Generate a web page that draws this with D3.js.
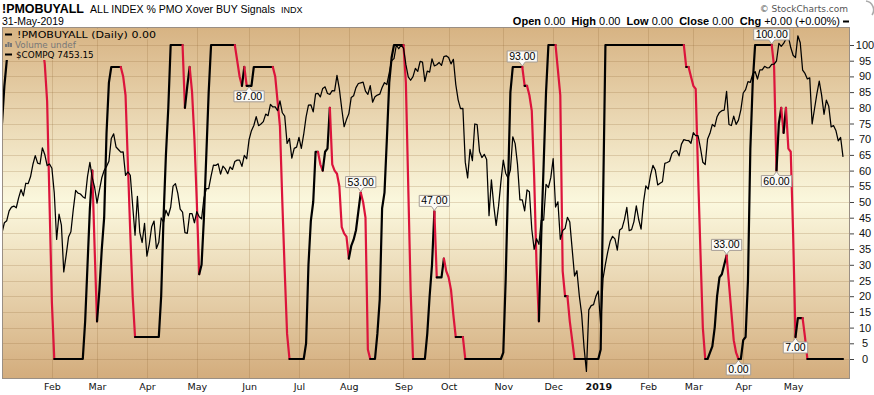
<!DOCTYPE html>
<html><head><meta charset="utf-8">
<script src="https://cdn.jsdelivr.net/npm/d3@7"></script>
<style>body{margin:0;background:#fff;}svg{display:block;}</style>
</head><body>
<svg id="chart" width="874" height="395"></svg>
<script>
// ---- DATA ----
const firstDay = "2018-01-02", lastDay = "2019-05-31";
const holidays = ["2018-01-01","2018-01-15","2018-02-19","2018-03-30","2018-05-28","2018-07-04","2018-09-03",
  "2018-11-22","2018-12-05","2018-12-25","2019-01-01","2019-01-21","2019-02-18","2019-04-19","2019-05-27"];

// $COMPQ daily closes (one per trading day)
const compq2018 = [
  7007,7066,7078,7136,7158,7164,7154,7212,7261,7224,7298,7296,7336,7408,7460,7416,7411,7506,7467,7402,7411, // Jan
  7386,7241,6968,7116,7052,6777,6874,6982,7013,7143,7256,7240,7235,7219,7210,7338,7421,7330,7273,           // Feb
  7181,7257,7330,7373,7397,7427,7561,7588,7511,7496,7481,7482,7344,7365,7345,7167,6993,7221,7009,6950,7063, // Mar
  6870,6941,7042,7076,6915,6951,7094,7069,7140,7107,7157,7281,7296,7238,7146,7129,7008,7004,7119,7120,7066, // Apr
  7131,7101,7089,7210,7266,7266,7340,7405,7403,7412,7352,7399,7382,7354,7394,7379,7426,7434,7434,7397,7462,7442, // May
  7554,7607,7637,7689,7636,7646,7660,7704,7695,7761,7746,7747,7725,7782,7712,7692,7532,7561,7445,7503,7510, // Jun
  7568,7503,7586,7688,7757,7759,7717,7823,7826,7805,7855,7864,7825,7820,7842,7841,7932,7852,7737,7630,7672, // Jul
  7707,7802,7812,7860,7884,7888,7892,7839,7820,7871,7774,7806,7816,7821,7860,7889,7878,7946,8018,8030,8110,8088,8110, // Aug
  8092,7996,7923,7903,7924,7973,7955,8014,8010,7896,7957,7951,8028,7987,7994,8007,7990,8042,8046,           // Sep
  8037,7999,8026,7879,7788,7736,7738,7422,7329,7497,7431,7646,7642,7485,7449,7468,7437,7108,7318,7167,7050,7162,7306, // Oct
  7434,7357,7329,7376,7571,7531,7407,7201,7200,7136,7259,7248,7028,6909,6972,6939,7082,7082,7292,7273,7331, // Nov
  7442,7158,7189,6969,7020,7032,7098,7070,6911,6753,6784,6637,6528,6333,6193,6554,6579,6585,6635            // Dec
];
const compq2019 = [
  6665,6463,6739,6823,6897,6957,6986,6971,6905,7024,7034,7084,7157,7020,7026,7073,7165,7085,7028,7184,7282, // Jan
  7264,7347,7403,7375,7288,7298,7307,7415,7420,7427,7472,7487,7489,7459,7528,7554,7550,7549,7533,           // Feb
  7596,7577,7577,7505,7421,7408,7558,7591,7644,7631,7689,7714,7724,7728,7838,7643,7637,7692,7644,7669,7729, // Mar
  7828,7848,7895,7891,7938,7954,7910,7964,7964,7985,7976,7977,7996,7998,8016,8120,8102,8119,8146,8161,8095, // Apr
  8050,8036,8164,8123,7963,7943,7911,7917,7647,7734,7823,7898,7816,7703,7786,7751,7629,7637,7608,7547,7567,7453 // May
];

// !PMOBUYALL turning points
const pmoDates = [
  "2018-01-02","2018-01-03","2018-01-04","2018-01-05","2018-01-26","2018-01-29","2018-01-30","2018-01-31","2018-02-01","2018-02-02",
  "2018-02-21","2018-02-22","2018-02-23","2018-02-26","2018-02-27","2018-02-28","2018-03-01","2018-03-02","2018-03-05","2018-03-06",
  "2018-03-07","2018-03-08","2018-03-09","2018-03-15","2018-03-16","2018-03-19","2018-03-20","2018-03-21","2018-03-22","2018-03-23",
  "2018-04-09","2018-04-10","2018-04-11","2018-04-12","2018-04-13","2018-04-16","2018-04-23","2018-04-24","2018-04-25","2018-04-26",
  "2018-04-27","2018-04-30","2018-05-01","2018-05-02","2018-05-03","2018-05-04","2018-05-07","2018-05-08","2018-05-09","2018-05-23",
  "2018-05-24","2018-05-25","2018-05-29","2018-05-30","2018-05-31","2018-06-04","2018-06-05","2018-06-15","2018-06-18","2018-06-19",
  "2018-06-20","2018-06-21","2018-06-22","2018-06-25","2018-06-26","2018-07-05","2018-07-06","2018-07-09","2018-07-10","2018-07-11",
  "2018-07-12","2018-07-13","2018-07-16","2018-07-17","2018-07-18","2018-07-19","2018-07-20","2018-07-23","2018-07-24","2018-07-25",
  "2018-07-26","2018-07-27","2018-07-30","2018-07-31","2018-08-01","2018-08-02","2018-08-03","2018-08-06","2018-08-07","2018-08-08",
  "2018-08-09","2018-08-10","2018-08-13","2018-08-14","2018-08-16","2018-08-17","2018-08-20","2018-08-21","2018-08-22","2018-08-23",
  "2018-08-24","2018-08-27","2018-08-28","2018-09-04","2018-09-05","2018-09-06","2018-09-07","2018-09-10","2018-09-17","2018-09-18",
  "2018-09-19","2018-09-20","2018-09-21","2018-09-24","2018-09-26","2018-09-27","2018-09-28","2018-10-01","2018-10-02","2018-10-03",
  "2018-10-04","2018-10-09","2018-10-10","2018-10-31","2018-11-01","2018-11-02","2018-11-05","2018-11-06","2018-11-07","2018-11-13",
  "2018-11-14","2018-11-15","2018-11-16","2018-11-19","2018-11-20","2018-11-21","2018-11-23","2018-11-26","2018-11-27","2018-11-28",
  "2018-11-29","2018-12-04","2018-12-06","2018-12-07","2018-12-10","2018-12-11","2018-12-12","2018-12-13","2018-12-14","2018-12-17",
  "2019-01-02","2019-01-03","2019-01-04","2019-01-07","2019-02-25","2019-02-26","2019-02-27","2019-02-28","2019-03-01","2019-03-04",
  "2019-03-05","2019-03-06","2019-03-07","2019-03-08","2019-03-11","2019-03-12","2019-03-13","2019-03-14","2019-03-15","2019-03-18",
  "2019-03-19","2019-03-20","2019-03-21","2019-03-22","2019-03-25","2019-03-26","2019-03-27","2019-03-28","2019-03-29","2019-04-01",
  "2019-04-02","2019-04-03","2019-04-04","2019-04-05","2019-04-08","2019-04-17","2019-04-18","2019-04-22","2019-04-23","2019-04-24",
  "2019-04-25","2019-04-26","2019-04-29","2019-04-30","2019-05-01","2019-05-02","2019-05-03","2019-05-07","2019-05-08","2019-05-09",
  "2019-05-31"
];
const pmoValues = [
  75,87,95,100,100,94,82,50,18,0,
  0,12,30,48,60,35,12,22,35,45,
  72,88,93,93,90,84,62,40,20,7,
  7,20,45,65,80,100,100,80,87,93,
  85,70,50,27,30,45,65,85,100,100,
  95,90,87,93,87,87,93,93,90,82,
  74,50,28,8,0,0,5,30,44,50,
  66,66,62,60,66,67,80,62,60,59,
  55,42,40,39,32,36,38,41,47,53,
  50,45,3,0,0,8,19,48,53,70,
  88,96,100,100,88,55,22,0,0,8,
  20,30,47,26,26,32,28,26,22,14,
  7,7,0,0,2,25,55,85,93,93,
  87,87,84,79,58,30,12,40,62,85,
  100,100,92,84,28,20,20,12,6,0,
  0,3,50,100,100,93,93,90,87,86,
  59,34,10,0,0,2,4,10,20,26,
  27,30,33,24,15,6,2,0,0,6,
  7,25,67,88,100,100,93,60,75,80,
  72,80,67,66,40,7,13,13,7,0,
  0
];

// value labels
const annoDates  = ["2018-06-01","2018-08-08","2018-09-21","2018-11-13","2019-03-21","2019-03-28","2019-04-17","2019-04-22","2019-05-02"];
const annoValues = [87,53,47,93,33,0,100,60,7];
const annoPlace  = ["below","above","above","above","above","below","above","below","below"];

const yTicks = d3.range(0, 101, 5);

// ---- BUILD ----
const fmtDay = d3.utcFormat("%Y-%m-%d"), parseDay = d3.utcParse("%Y-%m-%d");
const hol = new Set(holidays);
const days = d3.utcDays(parseDay(firstDay), d3.utcDay.offset(parseDay(lastDay), 1))
  .filter(d => d.getUTCDay() !== 0 && d.getUTCDay() !== 6 && !hol.has(fmtDay(d)));
const dayIdx = new Map(days.map((d, i) => [fmtDay(d), i]));
const compq = compq2018.concat(compq2019);

const plot = {l: 2, r: 850, t: 27, b: 379};
const x = d3.scaleLinear().domain([0, days.length - 1]).range([2, 843]);
const y = d3.scaleLinear().domain([0, 100]).range([359, 45]);
const yC = d3.scaleLinear().domain([6192, 8110]).range([y(-4), y(100)]);

const svg = d3.select("#chart");
const defs = svg.append("defs");
const grad = defs.append("linearGradient").attr("id", "bg").attr("gradientUnits", "userSpaceOnUse")
  .attr("x1", 0).attr("y1", plot.t).attr("x2", 0).attr("y2", plot.b);
[[0, "#d7b383"], [0.5, "#fbf8de"], [1, "#d3ac7c"]].forEach(([o, c]) => grad.append("stop").attr("offset", o).attr("stop-color", c));
defs.append("clipPath").attr("id", "clip").append("rect")
  .attr("x", plot.l).attr("y", plot.t).attr("width", plot.r - plot.l).attr("height", plot.b - plot.t);

svg.append("rect").attr("x", plot.l).attr("y", plot.t).attr("width", plot.r - plot.l).attr("height", plot.b - plot.t)
  .attr("fill", "url(#bg)");

// month starts
const monthStarts = [];
days.forEach((d, i) => { if (i > 0 && d.getUTCMonth() !== days[i - 1].getUTCMonth()) monthStarts.push(i); });

const grid = svg.append("g").attr("stroke", "rgba(140,100,50,0.22)").attr("stroke-width", 1);
yTicks.forEach(v => grid.append("line").attr("x1", plot.l).attr("x2", plot.r)
  .attr("y1", Math.round(y(v)) + 0.5).attr("y2", Math.round(y(v)) + 0.5));
monthStarts.forEach(i => grid.append("line").attr("y1", plot.t).attr("y2", plot.b)
  .attr("x1", Math.round(x(i)) + 0.5).attr("x2", Math.round(x(i)) + 0.5));

const g = svg.append("g").attr("clip-path", "url(#clip)");

// PMO line coloured by direction
const pts = pmoDates.map((d, k) => ({i: dayIdx.get(d), v: pmoValues[k]}));
const runs = [];
for (let k = 1; k < pts.length; k++) {
  const col = pts[k].v < pts[k - 1].v ? "#dc143c" : "#000";
  const last = runs[runs.length - 1];
  if (last && last.col === col) last.p.push(pts[k]);
  else runs.push({col, p: [pts[k - 1], pts[k]]});
}
const pLine = d3.line().x(p => x(p.i)).y(p => y(p.v));
runs.forEach(r => g.append("path").attr("d", pLine(r.p)).attr("fill", "none").attr("stroke", r.col)
  .attr("stroke-width", 2.2).attr("stroke-linejoin", "round").attr("stroke-linecap", "round"));

// COMPQ overlay
const cLine = d3.line().x((v, i) => x(i)).y(v => yC(v));
g.append("path").attr("d", cLine(compq)).attr("fill", "none").attr("stroke", "#000")
  .attr("stroke-width", 1.25).attr("stroke-linejoin", "round");

// legend (opaque background over the lines)
const lf = "DejaVu Sans, sans-serif";
const lg = svg.append("g");
const legBg = lg.append("g");
lg.append("line").attr("x1", 5).attr("x2", 12).attr("y1", 34.5).attr("y2", 34.5).attr("stroke", "#000").attr("stroke-width", 2);
const l1 = lg.append("text").attr("x", 17).attr("y", 38).attr("font-family", lf).attr("font-size", 9.5)
  .attr("textLength", 139).attr("lengthAdjust", "spacingAndGlyphs").text("!PMOBUYALL (Daily) 0.00");
[[5, 3], [7.5, 5], [10, 4]].forEach(([bx, bh]) => lg.append("rect").attr("x", bx).attr("y", 47 - bh).attr("width", 2).attr("height", bh).attr("fill", "#777"));
const l2 = lg.append("text").attr("x", 15).attr("y", 48).attr("font-family", lf).attr("font-size", 8.8).attr("fill", "#777").text("Volume undef");
lg.append("line").attr("x1", 5).attr("x2", 12).attr("y1", 54.5).attr("y2", 54.5).attr("stroke", "#000").attr("stroke-width", 2);
const l3 = lg.append("text").attr("x", 16).attr("y", 58).attr("font-family", lf).attr("font-size", 8.8).text("$COMPQ 7453.15");
[[l1, 29, 10], [l2, 39, 10], [l3, 49, 11]].forEach(([t, ty, th]) => {
  const bb = t.node().getBBox();
  legBg.append("rect").attr("x", plot.l + 1).attr("y", ty).attr("width", bb.x + bb.width + 2 - plot.l - 1).attr("height", th)
    .attr("fill", "url(#bg)");
});

// border
svg.append("rect").attr("x", plot.l + 0.5).attr("y", plot.t + 0.5).attr("width", plot.r - plot.l - 1).attr("height", plot.b - plot.t - 1)
  .attr("fill", "none").attr("stroke", "#9a8f84");

// annotations
const ag = svg.append("g");
annoDates.forEach((d, k) => {
  const px = x(dayIdx.get(d)), py = y(annoValues[k]);
  const t = ag.append("text").attr("font-family", "Liberation Sans, Arial, sans-serif").attr("font-size", 10.5)
    .attr("text-anchor", "middle").text(annoValues[k].toFixed(2));
  const tw = t.node().getComputedTextLength();
  const w = tw + 4, h = 11, x0 = px - w / 2, x1 = px + w / 2;
  let path, by;
  if (annoPlace[k] === "above") {
    const yb = py - 5, yt = yb - h; by = yb - 2;
    path = `M${x0},${yt}H${x1}V${yb}H${px + 3}L${px},${py - 1}L${px - 3},${yb}H${x0}Z`;
  } else {
    const yt = py + 5, yb = yt + h; by = yb - 2;
    path = `M${x0},${yt}H${px - 3}L${px},${py + 1}L${px + 3},${yt}H${x1}V${yb}H${x0}Z`;
  }
  ag.insert("path", "text").attr("d", path).attr("fill", "#fbfaf6").attr("stroke", "#a59d95").attr("stroke-width", 1);
  t.attr("x", px).attr("y", by).raise();
});

// right axis
const ya = svg.append("g").attr("transform", `translate(${plot.r},0)`)
  .call(d3.axisRight(y).tickValues(yTicks).tickSize(4).tickFormat(d3.format("d")));
ya.select(".domain").remove();
ya.selectAll(".tick line").attr("stroke", "#444");
ya.selectAll(".tick text").attr("x", 15).attr("text-anchor", "middle")
  .attr("font-family", "Liberation Sans, Arial, sans-serif").attr("font-size", 11).attr("fill", "#111");

// bottom axis
const xa = svg.append("g").attr("transform", `translate(0,${plot.b})`)
  .call(d3.axisBottom(x).tickValues(monthStarts).tickSize(0).tickPadding(4)
    .tickFormat(i => days[i].getUTCMonth() === 0 ? d3.utcFormat("%Y")(days[i]) : d3.utcFormat("%b")(days[i])));
xa.select(".domain").remove();
xa.selectAll(".tick text").attr("font-family", "DejaVu Sans, sans-serif").attr("font-size", 9.5).attr("fill", "#111")
  .attr("font-weight", i => days[i].getUTCMonth() === 0 ? "bold" : "normal");

// header
const hf = "Liberation Sans, Arial, sans-serif";
svg.append("text").attr("x", 2).attr("y", 13).attr("font-family", hf).attr("font-weight", "bold").attr("font-size", 13.5)
  .attr("textLength", 82).attr("lengthAdjust", "spacingAndGlyphs").text("!PMOBUYALL");
svg.append("text").attr("x", 90).attr("y", 13).attr("font-family", hf).attr("font-size", 10.8)
  .attr("textLength", 185).attr("lengthAdjust", "spacingAndGlyphs").text("ALL INDEX % PMO Xover BUY Signals");
svg.append("text").attr("x", 281).attr("y", 13).attr("font-family", hf).attr("font-size", 9).text("INDX");
svg.append("text").attr("x", 2).attr("y", 25).attr("font-family", hf).attr("font-size", 10.5).text("31-May-2019");
svg.append("text").attr("x", 848).attr("y", 12).attr("text-anchor", "end").attr("font-family", "DejaVu Sans, sans-serif")
  .attr("font-size", 9).attr("fill", "#555").text("© StockCharts.com");
const ohlc = svg.append("text").attr("x", 840).attr("y", 25).attr("text-anchor", "end").attr("font-family", hf)
  .attr("font-size", 11).attr("xml:space", "preserve");
[["Open", " 0.00  "], ["High", " 0.00  "], ["Low", " 0.00  "], ["Close", " 0.00  "], ["Chg", " +0.00 (+0.00%)"]].forEach(([a, b]) => {
  ohlc.append("tspan").attr("font-weight", "bold").text(a);
  ohlc.append("tspan").text(b);
});
svg.append("line").attr("x1", 843).attr("x2", 849).attr("y1", 21.5).attr("y2", 21.5).attr("stroke", "#000").attr("stroke-width", 2);
svg.append("path").attr("d", "M866,1 A9,9 0 0 1 872,15").attr("fill", "none").attr("stroke", "#aaa").attr("stroke-width", 1.5);
</script>
</body></html>
